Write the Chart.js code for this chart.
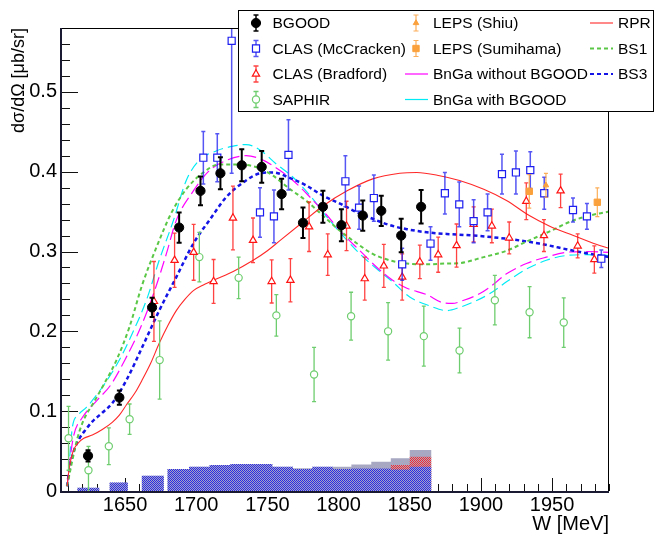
<!DOCTYPE html>
<html><head><meta charset="utf-8">
<script src="https://cdn.jsdelivr.net/npm/chart.js@4"></script>
<style>html,body{margin:0;padding:0;background:#fff}canvas{display:block}</style>
</head><body>
<canvas id="c" width="655" height="536"></canvas>
<script>
// ---------------- data ----------------
const BGOOD_W   = [1624, 1646, 1669, 1688, 1703, 1717, 1732, 1746, 1760, 1775, 1789, 1802, 1817, 1830, 1844, 1858];
const BGOOD_V   = [0.044, 0.117, 0.230, 0.330, 0.376, 0.398, 0.408, 0.406, 0.372, 0.336, 0.356, 0.333, 0.345, 0.351, 0.320, 0.356];
const BGOOD_E   = [0.007, 0.009, 0.012, 0.019, 0.018, 0.020, 0.020, 0.020, 0.019, 0.019, 0.020, 0.020, 0.019, 0.019, 0.021, 0.021];

const MCC_W = [1705, 1714.8, 1724.9, 1744.8, 1754.6, 1764.8, 1804.8, 1814.4, 1824.8, 1844.7, 1864.6, 1874.7, 1884.8, 1894.9, 1904.7, 1914.8, 1924.6, 1934.7, 1944.5, 1964.7, 1974.5, 1984.6];
const MCC_V = [0.4175, 0.4175, 0.564, 0.349, 0.344, 0.421, 0.388, 0.355, 0.367, 0.284, 0.310, 0.373, 0.359, 0.338, 0.349, 0.397, 0.399, 0.402, 0.373, 0.352, 0.344, 0.291];
const MCC_E = [0.033, 0.030, 0.166, 0.031, 0.033, 0.044, 0.032, 0.027, 0.029, 0.020, 0.021, 0.026, 0.028, 0.027, 0.023, 0.025, 0.027, 0.023, 0.020, 0.015, 0.016, 0.011];

const BRAD_W = [1670.3, 1684.8, 1698.2, 1712.2, 1725.8, 1739.9, 1753, 1766.2, 1779.3, 1792.4, 1805.6, 1818.4, 1831.8, 1844.7, 1857.1, 1870, 1882.9, 1894.9, 1907.7, 1919.9, 1931.9, 1944.3, 1956, 1968, 1979.7];
const BRAD_V = [0.2375, 0.289, 0.299, 0.2625, 0.342, 0.314, 0.2625, 0.264, 0.331, 0.296, 0.332, 0.266, 0.282, 0.268, 0.287, 0.296, 0.3075, 0.334, 0.332, 0.317, 0.363, 0.320, 0.376, 0.307, 0.290];
const BRAD_E = [0.050, 0.034, 0.035, 0.0275, 0.040, 0.028, 0.027, 0.027, 0.031, 0.026, 0.031, 0.027, 0.027, 0.029, 0.021, 0.022, 0.027, 0.022, 0.021, 0.020, 0.023, 0.020, 0.021, 0.015, 0.017];

const SAPH_W = [1610.3, 1624.3, 1638.6, 1653.2, 1674.3, 1702.2, 1729.8, 1756.3, 1782.8, 1808.8, 1834.8, 1859.9, 1885, 1909.8, 1934.2, 1958.2];
const SAPH_V = [0.066, 0.026, 0.056, 0.090, 0.164, 0.293, 0.267, 0.220, 0.146, 0.219, 0.200, 0.194, 0.176, 0.239, 0.224, 0.211];
const SAPH_E = [0.040, 0.030, 0.023, 0.019, 0.049, 0.031, 0.026, 0.026, 0.034, 0.030, 0.036, 0.0375, 0.028, 0.031, 0.032, 0.031];

const SHIU_W = [1945.7];
const SHIU_V = [0.383];
const SHIU_E = [0.015];

const SUMI_W = [1934, 1981.8];
const SUMI_V = [0.3754, 0.3617];
const SUMI_E = [0.021, 0.018];

// model curves
const RPR_W = [1609.3, 1610.5, 1612, 1614, 1617, 1621, 1627, 1634, 1641, 1646, 1651, 1657, 1662, 1668, 1674, 1680, 1686, 1692, 1698, 1705, 1712, 1726, 1740, 1750, 1759, 1775, 1789, 1806, 1824, 1843, 1855, 1871, 1885, 1902, 1918, 1934, 1948, 1965, 1981, 1990];
const RPR_V = [0.006, 0.025, 0.040, 0.052, 0.060, 0.066, 0.070, 0.077, 0.086, 0.095, 0.108, 0.123, 0.139, 0.160, 0.185, 0.207, 0.226, 0.240, 0.251, 0.258, 0.264, 0.275, 0.289, 0.301, 0.314, 0.337, 0.357, 0.376, 0.391, 0.398, 0.399, 0.395, 0.389, 0.378, 0.364, 0.345, 0.332, 0.320, 0.309, 0.304];

const BS1_W = [1609.3, 1612, 1615, 1618, 1622, 1627, 1634, 1644, 1653, 1662, 1672, 1683, 1693, 1705, 1716, 1730, 1745, 1754, 1766, 1777, 1789, 1801, 1813, 1824, 1836, 1848, 1862, 1876, 1885, 1902, 1918, 1934, 1948, 1965, 1981, 1990];
const BS1_V = [0.006, 0.030, 0.055, 0.075, 0.093, 0.108, 0.130, 0.164, 0.205, 0.258, 0.305, 0.350, 0.378, 0.399, 0.409, 0.409, 0.404, 0.395, 0.378, 0.364, 0.345, 0.326, 0.310, 0.297, 0.289, 0.285, 0.284, 0.285, 0.2855, 0.293, 0.301, 0.314, 0.325, 0.339, 0.347, 0.350];

const BS3_W = [1609.3, 1611, 1614, 1618, 1622, 1627, 1634, 1641, 1651, 1662, 1674, 1686, 1698, 1710, 1721, 1735, 1745, 1754, 1766, 1777, 1789, 1801, 1813, 1824, 1836, 1848, 1862, 1876, 1895, 1918, 1941, 1965, 1990];
const BS3_V = [0.006, 0.028, 0.050, 0.066, 0.076, 0.087, 0.098, 0.110, 0.139, 0.180, 0.226, 0.268, 0.310, 0.341, 0.368, 0.389, 0.398, 0.399, 0.392, 0.383, 0.370, 0.360, 0.349, 0.341, 0.333, 0.328, 0.324, 0.322, 0.320, 0.316, 0.310, 0.301, 0.293];

const BNGA0_W = [1609.3, 1611, 1614, 1620, 1630, 1640, 1651, 1660, 1670, 1679, 1686, 1698, 1709, 1721, 1735, 1745, 1756, 1768, 1780, 1791, 1803, 1815, 1827, 1838, 1848, 1862, 1873, 1880, 1888, 1899, 1906, 1918, 1932, 1946, 1960, 1974, 1990];
const BNGA0_V = [0.006, 0.035, 0.070, 0.092, 0.113, 0.133, 0.168, 0.201, 0.247, 0.297, 0.339, 0.376, 0.401, 0.414, 0.420, 0.416, 0.405, 0.389, 0.368, 0.347, 0.322, 0.301, 0.280, 0.264, 0.254, 0.246, 0.236, 0.235, 0.239, 0.247, 0.255, 0.272, 0.285, 0.293, 0.299, 0.300, 0.299];

const BNGA1_W = [1609.3, 1611, 1613, 1617, 1623, 1634, 1646, 1655, 1665, 1674, 1684, 1693, 1702, 1714, 1726, 1735, 1745, 1756, 1768, 1780, 1791, 1803, 1815, 1827, 1838, 1850, 1864, 1876, 1885, 1895, 1906, 1918, 1932, 1946, 1960, 1974, 1990];
const BNGA1_V = [0.006, 0.040, 0.080, 0.095, 0.105, 0.130, 0.164, 0.197, 0.239, 0.289, 0.339, 0.389, 0.414, 0.426, 0.432, 0.434, 0.427, 0.410, 0.393, 0.370, 0.345, 0.320, 0.297, 0.278, 0.262, 0.243, 0.232, 0.226, 0.230, 0.237, 0.247, 0.262, 0.278, 0.289, 0.295, 0.296, 0.295];

// systematic uncertainty histogram (BGOOD bins)
const SYS_LO   = [1616.4, 1639, 1661.6, 1679.7, 1695, 1709.4, 1724, 1739, 1753.5, 1768, 1781.5, 1796, 1809, 1823, 1836.7, 1850];
const SYS_HI   = [1632.1, 1652, 1677.3, 1695, 1709.4, 1724, 1739, 1753.5, 1768, 1781.5, 1796, 1809, 1823, 1836.7, 1850, 1865.3];
const SYS_TOT  = [0.004, 0.0105, 0.019, 0.0275, 0.0304, 0.0325, 0.0337, 0.0337, 0.0305, 0.0285, 0.0305, 0.0305, 0.0333, 0.0367, 0.041, 0.0513];
const SYS_RED  = [0, 0, 0, 0, 0, 0, 0, 0, 0.004, 0.005, 0.008, 0.010, 0.016, 0.012, 0.0325, 0.043];
const SYS_BLUE = [0.004, 0.0105, 0.019, 0.0275, 0.0304, 0.0325, 0.0337, 0.0337, 0.0304, 0.0275, 0.0304, 0.0275, 0.0283, 0.0283, 0.027, 0.0304];

const X_MIN = 1605, X_MAX = 1990, Y_MIN = 0, Y_MAX = 0.58;

// ---------------- helpers ----------------
const FONT = "'Liberation Sans', Arial, Helvetica, sans-serif";
const pts = (w, v) => w.map((x, i) => ({x, y: v[i]}));
function histPts(lo, hi, h) {
  const out = [];
  for (let i = 0; i < lo.length; i++) {
    if (h[i] <= 0) { out.push({x: (lo[i] + hi[i]) / 2, y: null}); continue; }
    if (i > 0 && lo[i] - hi[i - 1] > 0.5) out.push({x: (lo[i] + hi[i - 1]) / 2, y: null});
    out.push({x: lo[i], y: h[i]});
    out.push({x: hi[i], y: h[i]});
  }
  return out;
}
const mainCtx = document.getElementById('c').getContext('2d');
function pattern(c1) {
  const cv = document.createElement('canvas');
  cv.width = 2; cv.height = 2;
  const g = cv.getContext('2d');
  g.fillStyle = c1; g.fillRect(0, 0, 1, 1); g.fillRect(1, 1, 1, 1);
  return mainCtx.createPattern(cv, 'repeat');
}

const C_MCC = 'rgb(30,30,240)';
const C_BRAD = 'rgb(255,20,20)';
const C_SAPH = 'rgb(110,205,110)';
const C_LEPS = 'rgb(250,160,60)';

function pointSet(label, w, v, e, style, order) {
  return Object.assign({
    type: 'scatter', label, data: pts(w, v), errors: e, showLine: false, order
  }, style);
}
function curve(label, w, v, color, width, dash, order) {
  return {
    type: 'line', label, data: pts(w, v), borderColor: color, borderWidth: width,
    borderDash: dash, pointRadius: 0, fill: false, cubicInterpolationMode: 'monotone', order
  };
}
function histSet(label, h, bg, order) {
  return {
    type: 'line', label, data: histPts(SYS_LO, SYS_HI, h), backgroundColor: bg,
    borderColor: 'rgba(0,0,0,0)', borderWidth: 1, pointRadius: 0, fill: 'origin',
    spanGaps: false, tension: 0, order
  };
}

const datasets = [
  pointSet('BGOOD', BGOOD_W, BGOOD_V, BGOOD_E, {pointStyle: 'circle', pointRadius: 4.6, pointBackgroundColor: '#000', pointBorderColor: '#000', pointBorderWidth: 1, errColor: '#000', errWidth: 2, cap: 2.5}, 1),
  pointSet('LEPS (Shiu)', SHIU_W, SHIU_V, SHIU_E, {pointStyle: 'triangle', pointRadius: 3.2, pointBackgroundColor: C_LEPS, pointBorderColor: C_LEPS, pointBorderWidth: 1, errColor: 'rgba(250,160,60,0.85)', errWidth: 1.2, cap: 2}, 2),
  pointSet('LEPS (Sumihama)', SUMI_W, SUMI_V, SUMI_E, {pointStyle: 'rect', pointRadius: 4.5, pointBackgroundColor: C_LEPS, pointBorderColor: C_LEPS, pointBorderWidth: 1, errColor: 'rgba(250,160,60,0.85)', errWidth: 1.2, cap: 2}, 3),
  pointSet('CLAS (McCracken)', MCC_W, MCC_V, MCC_E, {pointStyle: 'rect', pointRadius: 5, pointBackgroundColor: '#fff', pointBorderColor: C_MCC, pointBorderWidth: 1.2, errColor: 'rgba(30,30,240,0.75)', errWidth: 1.5, cap: 2}, 4),
  pointSet('CLAS (Bradford)', BRAD_W, BRAD_V, BRAD_E, {pointStyle: 'triangle', pointRadius: 4.2, pointBackgroundColor: '#fff', pointBorderColor: C_BRAD, pointBorderWidth: 1.2, errColor: 'rgba(255,20,20,0.8)', errWidth: 1.3, cap: 2}, 5),
  pointSet('SAPHIR', SAPH_W, SAPH_V, SAPH_E, {pointStyle: 'circle', pointRadius: 3.6, pointBackgroundColor: '#fff', pointBorderColor: C_SAPH, pointBorderWidth: 1.2, errColor: C_SAPH, errWidth: 1.3, cap: 2}, 6),
  curve('RPR', RPR_W, RPR_V, 'rgb(255,40,40)', 1.1, [], 10),
  curve('BS1', BS1_W, BS1_V, 'rgb(90,200,70)', 2, [4, 3], 11),
  curve('BS3', BS3_W, BS3_V, 'rgb(20,20,230)', 2.5, [4, 3], 12),
  curve('BnGa without BGOOD', BNGA0_W, BNGA0_V, 'rgb(255,0,255)', 1.2, [12, 5], 13),
  curve('BnGa with BGOOD', BNGA1_W, BNGA1_V, 'rgb(0,235,245)', 1.2, [10, 5], 14),
  histSet('sys blue', SYS_BLUE, pattern('rgb(40,40,235)'), 20),
  histSet('sys red', SYS_RED, pattern('rgb(250,40,40)'), 21),
  histSet('sys total', SYS_TOT, 'rgb(168,168,195)', 22)
];

// ---------------- plugins ----------------
const errorBars = {
  id: 'errorBars',
  beforeDatasetDraw(chart, args) {
    const ds = chart.data.datasets[args.index];
    if (!ds.errors) return;
    const {ctx, chartArea: a, scales: {x, y}} = chart;
    ctx.save();
    ctx.beginPath(); ctx.rect(a.left, a.top, a.right - a.left, a.bottom - a.top); ctx.clip();
    ctx.strokeStyle = ds.errColor; ctx.lineWidth = ds.errWidth;
    ds.data.forEach((p, i) => {
      const px = x.getPixelForValue(p.x);
      const y1 = y.getPixelForValue(p.y - ds.errors[i]);
      const y2 = y.getPixelForValue(p.y + ds.errors[i]);
      ctx.beginPath();
      ctx.moveTo(px, y1); ctx.lineTo(px, y2);
      ctx.moveTo(px - ds.cap, y1); ctx.lineTo(px + ds.cap, y1);
      ctx.moveTo(px - ds.cap, y2); ctx.lineTo(px + ds.cap, y2);
      ctx.stroke();
    });
    ctx.restore();
  }
};

const frame = {
  id: 'frame',
  beforeDatasetsDraw(chart) {
    const {ctx, chartArea: a, scales: {x, y}} = chart;
    ctx.save();
    ctx.strokeStyle = '#111'; ctx.lineWidth = 1;
    ctx.beginPath();
    for (let k = Math.ceil(Y_MIN / 0.02); k * 0.02 <= Y_MAX + 1e-9; k++) {
      const v = k * 0.02, py = Math.round(y.getPixelForValue(v)) + 0.5;
      const len = (k % 5 === 0) ? 17 : 9;
      ctx.moveTo(a.left, py); ctx.lineTo(a.left + len, py);
    }
    for (let k = Math.ceil(X_MIN / 10); k * 10 <= X_MAX; k++) {
      const px = Math.round(x.getPixelForValue(k * 10)) + 0.5;
      const len = (k % 5 === 0) ? 13 : 7;
      ctx.moveTo(px, a.bottom); ctx.lineTo(px, a.bottom - len);
    }
    ctx.stroke();
    ctx.restore();
  },
  afterDatasetsDraw(chart) {
    const {ctx, chartArea: a} = chart;
    ctx.save();
    ctx.strokeStyle = '#000'; ctx.lineWidth = 1;
    ctx.strokeRect(a.left + 0.5, a.top + 0.5, a.right - a.left - 1, a.bottom - a.top);
    ctx.strokeStyle = '#1a1a33'; ctx.lineWidth = 2;
    ctx.beginPath();
    ctx.moveTo(a.left, a.top); ctx.lineTo(a.left, a.bottom + 1);
    ctx.lineTo(a.right, a.bottom + 1);
    ctx.stroke();
    ctx.restore();
  }
};

const legendBox = {
  id: 'legendBox',
  afterDraw(chart) {
    const ctx = chart.ctx;
    const dsBy = l => chart.data.datasets.find(d => d.label === l);
    ctx.save();
    ctx.fillStyle = '#fff';
    ctx.fillRect(238.5, 10.5, 415, 101);
    ctx.strokeStyle = '#000'; ctx.lineWidth = 1;
    ctx.strokeRect(238.5, 10.5, 415, 101);
    ctx.font = '15.5px ' + FONT;
    ctx.textBaseline = 'middle'; ctx.textAlign = 'left';
    const rows = [23, 48.5, 74, 99.5];
    const markerEntry = (label, mx, tx, ry) => {
      const d = dsBy(label);
      ctx.strokeStyle = d.errColor; ctx.lineWidth = Math.min(d.errWidth, 1.5);
      ctx.beginPath();
      ctx.moveTo(mx, ry - 8); ctx.lineTo(mx, ry + 8);
      ctx.moveTo(mx - 2.5, ry - 8); ctx.lineTo(mx + 2.5, ry - 8);
      ctx.moveTo(mx - 2.5, ry + 8); ctx.lineTo(mx + 2.5, ry + 8);
      ctx.stroke();
      ctx.fillStyle = d.pointBackgroundColor; ctx.strokeStyle = d.pointBorderColor; ctx.lineWidth = d.pointBorderWidth;
      Chart.helpers.drawPoint(ctx, {pointStyle: d.pointStyle, radius: d.pointRadius, rotation: 0, borderWidth: d.pointBorderWidth}, mx, ry);
      ctx.fillStyle = '#000';
      ctx.fillText(label, tx, ry + 1);
    };
    const lineEntry = (label, x0, x1, tx, ry) => {
      const d = dsBy(label);
      ctx.strokeStyle = d.borderColor; ctx.lineWidth = Math.min(d.borderWidth, 2);
      ctx.setLineDash(d.borderDash.length ? [4, 3] : []);
      if (label.startsWith('BnGa')) ctx.setLineDash([]);
      ctx.beginPath(); ctx.moveTo(x0, ry); ctx.lineTo(x1, ry); ctx.stroke();
      ctx.setLineDash([]);
      ctx.fillStyle = '#000';
      ctx.fillText(label, tx, ry + 1);
    };
    markerEntry('BGOOD', 256, 272.5, rows[0]);
    markerEntry('CLAS (McCracken)', 256, 272.5, rows[1]);
    markerEntry('CLAS (Bradford)', 256, 272.5, rows[2]);
    markerEntry('SAPHIR', 256, 272.5, rows[3]);
    markerEntry('LEPS (Shiu)', 416, 433, rows[0]);
    markerEntry('LEPS (Sumihama)', 416, 433, rows[1]);
    lineEntry('BnGa without BGOOD', 405, 428, 433, rows[2]);
    lineEntry('BnGa with BGOOD', 405, 428, 433, rows[3]);
    lineEntry('RPR', 590, 613, 618, rows[0]);
    lineEntry('BS1', 590, 613, 618, rows[1]);
    lineEntry('BS3', 590, 613, 618, rows[2]);
    ctx.restore();
  }
};

// ---------------- chart ----------------
new Chart(mainCtx, {
  data: {datasets},
  options: {
    responsive: false, animation: false, devicePixelRatio: 1,
    layout: {padding: {top: 28, right: 46, left: 0, bottom: 0}},
    plugins: {legend: {display: false}, tooltip: {enabled: false}},
    scales: {
      x: {
        type: 'linear', min: X_MIN, max: X_MAX,
        grid: {display: false, drawTicks: false}, border: {display: false},
        ticks: {stepSize: 50, includeBounds: false, padding: 2, color: '#000', font: {family: FONT, size: 20}, maxRotation: 0,
                callback: v => String(v)},
        title: {display: true, text: 'W [MeV]', align: 'end', color: '#000', font: {family: FONT, size: 20}, padding: 0},
        afterFit: s => { s.height = 45; }
      },
      y: {
        type: 'linear', min: Y_MIN, max: Y_MAX,
        grid: {display: false, drawTicks: false}, border: {display: false},
        ticks: {stepSize: 0.1, includeBounds: false, padding: 4, color: '#000', font: {family: FONT, size: 20},
                callback: v => String(+v.toFixed(1))},
        title: {display: true, text: 'dσ/dΩ [μb/sr]', align: 'end', color: '#000', font: {family: FONT, size: 18}, padding: {top: 8, bottom: 0}},
        afterFit: s => { s.width = 61; }
      }
    }
  },
  plugins: [errorBars, frame, legendBox]
});
</script>
</body></html>
